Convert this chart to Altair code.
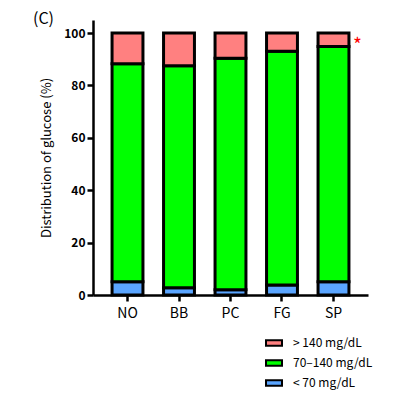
import altair as alt
import pandas as pd

groups = ["NO", "BB", "PC", "FG", "SP"]
low = [5.1, 2.8, 2.0, 3.8, 5.1]
mid = [83.2, 84.7, 88.4, 89.3, 89.8]
high = [11.7, 12.5, 9.6, 6.9, 5.1]
cats = ["> 140 mg/dL", "70–140 mg/dL", "< 70 mg/dL"]
colors = ["#FF8080", "#00FF00", "#5AA5FF"]
star_group = ["SP"]
star_value = [97.5]
star_text = ["*"]

rows = []
for g, l, m, h in zip(groups, low, mid, high):
    rows.append({"group": g, "cat": cats[2], "value": l, "order": 0})
    rows.append({"group": g, "cat": cats[1], "value": m, "order": 1})
    rows.append({"group": g, "cat": cats[0], "value": h, "order": 2})
df = pd.DataFrame(rows)
star_df = pd.DataFrame({"group": star_group, "value": star_value, "t": star_text})

FONT = "Noto Sans CJK JP"

x_enc = alt.X(
    "group:N",
    sort=groups,
    scale=alt.Scale(paddingInner=0.4, paddingOuter=0.37),
    axis=alt.Axis(title=None, labelAngle=0, labelFontSize=14, labelPadding=5,
                  tickSize=6),
)

bars = alt.Chart(df).mark_bar(stroke="black", strokeWidth=3).encode(
    x=x_enc,
    y=alt.Y(
        "value:Q",
        stack="zero",
        scale=alt.Scale(domain=[0, 105], nice=False),
        axis=alt.Axis(values=[0, 20, 40, 60, 80, 100], title="Distribution of glucose (%)",
                      labelFontSize=12, labelFontWeight="bold", tickSize=6,
                      titleFontSize=13, titleFontWeight="normal", titlePadding=10),
    ),
    color=alt.Color(
        "cat:N",
        scale=alt.Scale(domain=cats, range=colors),
        legend=alt.Legend(
            title=None, orient="none", legendX=172, legendY=314,
            symbolType="M-1,-0.35H1V0.35H-1Z", symbolSize=256,
            symbolStrokeColor="black", symbolStrokeWidth=2,
            labelFontSize=12, labelFont=FONT, rowPadding=4, padding=0,
            labelOffset=10,
        ),
    ),
    order=alt.Order("order:Q"),
)

star = alt.Chart(star_df).mark_text(color="red", fontSize=19, dx=24, dy=6, font=FONT).encode(
    x=alt.X("group:N", sort=groups),
    y=alt.Y("value:Q"),
    text="t:N",
)

chart = (
    alt.layer(bars, star)
    .properties(
        width=275,
        height=275,
        autosize=alt.AutoSizeParams(type="none"),
        padding={"left": 85, "top": 12, "right": 28, "bottom": 96},
        title=alt.TitleParams("(C)", anchor="start", frame="group", dx=-60, dy=7, offset=0,
                              fontSize=16, fontWeight="normal", font=FONT, color="black"),
    )
    .configure_view(stroke=None)
    .configure_axis(
        grid=False, domainColor="black", domainWidth=2.5, tickColor="black",
        tickWidth=2.5, labelColor="black", titleColor="black", labelFont=FONT, titleFont=FONT,
    )
)

chart.save("out.html", embed_options={"renderer": "svg", "actions": False})
